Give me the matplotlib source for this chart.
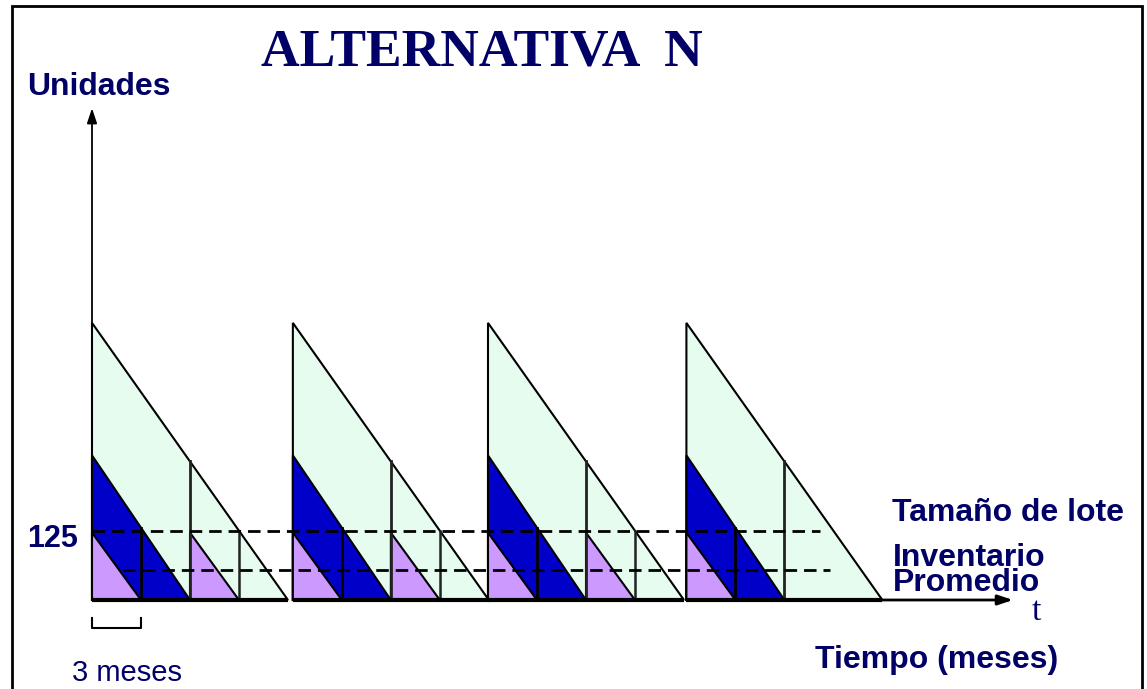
import matplotlib.pyplot as plt
from matplotlib.patches import Polygon, Rectangle

# figure size in pixels
W, H = 1147, 689

# lot heights (units) and how long each lot lasts (months)
lot_sizes = [502, 262, 122]
lot_months = [12, 6, 3]
cycle_starts = [0, 12.3, 24.25, 36.4]
has_second_small = [True, True, True, False]
dashed_levels = [125, 55]
dashed_ranges = [(0, 44.6), (1.9, 45.2)]

GREEN = '#e6fcee'
BLUE = '#0000c8'
PURPLE = '#cc99ff'
NAVY = '#000066'

# pixel mapping of the drawing: origin at (92, 600)
PX_PER_MONTH = 16.33
PX_PER_UNIT = 0.552


def px(x, y):
    return x / W, 1 - y / H


def triangle(ax, t0, height, width, color, lw=1.5, zorder=1):
    poly = Polygon([(t0, 0), (t0, height), (t0 + width, 0)], closed=True,
                   facecolor=color, edgecolor='black', lw=lw, zorder=zorder)
    ax.add_patch(poly)


def level(t0, t, height, width):
    # height left of a lot at time t
    return height * (1 - (t - t0) / width)


fig = plt.figure(figsize=(W / 100, H / 100), dpi=100)
ax = fig.add_axes([0, 0, 1, 1])
ax.set_xlim(-92 / PX_PER_MONTH, (W - 92) / PX_PER_MONTH)
ax.set_ylim((600 - H) / PX_PER_UNIT, 600 / PX_PER_UNIT)
ax.axis('off')

big, mid, small = lot_sizes
tb, tm, ts = lot_months
for t0, second in zip(cycle_starts, has_second_small):
    triangle(ax, t0, big, tb, GREEN, zorder=1)
    triangle(ax, t0, mid, tm, BLUE, zorder=2)
    triangle(ax, t0, small, ts, PURPLE, zorder=3)
    # vertical divisions
    ax.plot([t0 + ts, t0 + ts], [0, level(t0, t0 + ts, mid, tm)], color='black', lw=2, zorder=4)
    ax.plot([t0 + tm, t0 + tm], [0, level(t0, t0 + tm, big, tb)], color='#222222', lw=2, zorder=4)
    if second:
        triangle(ax, t0 + tm, small, ts, PURPLE, zorder=3)
        t9 = t0 + tm + ts
        ax.plot([t9, t9], [0, level(t0, t9, big, tb)], color='#222222', lw=1.8, zorder=4)
    # thick base
    ax.plot([t0, t0 + tb], [0, 0], color='black', lw=3, zorder=5, solid_capstyle='butt')

# average inventory lines
for lev, (a, b) in zip(dashed_levels, dashed_ranges):
    ax.plot([a, b], [lev, lev], color='black', lw=2, ls=(0, (4.5, 2.5)), zorder=6)

# axes arrows
ax.annotate('', xy=(0, 891), xytext=(0, 0),
            arrowprops=dict(arrowstyle='-|>,head_length=0.9,head_width=0.3', color='black', lw=1.3,
                            shrinkA=0, shrinkB=0), zorder=7)
x_end = cycle_starts[-1] + tb
ax.annotate('', xy=(56.4, 0), xytext=(x_end, 0),
            arrowprops=dict(arrowstyle='-|>,head_length=0.9,head_width=0.3', color='black', lw=2,
                            shrinkA=0, shrinkB=0), zorder=7)

# 3-month bracket
ax.plot([0, 0, 3, 3], [-33, -51, -51, -33], color='black', lw=1.5)

# frame
fig.patches.append(Rectangle((12 / W, -0.01), 1130 / W, 1 - 6 / H + 0.01, transform=fig.transFigure,
                             fill=False, edgecolor='black', lw=2))

sans = 'Liberation Sans'
fig.text(*px(482, 52), 'ALTERNATIVA  N', family='Liberation Serif', weight='bold',
         fontsize=38.5, color=NAVY, ha='center', va='center')
fig.text(*px(27, 87), 'Unidades', family=sans, weight='bold', fontsize=23, color=NAVY, va='center')
fig.text(*px(27, 539), '125', family=sans, weight='bold', fontsize=22, color=NAVY, va='center')
fig.text(*px(892, 513), 'Tamaño de lote', family=sans, weight='bold', fontsize=23, color=NAVY, va='center')
fig.text(*px(893, 566), 'Inventario', family=sans, weight='bold', fontsize=23, color=NAVY, va='baseline')
fig.text(*px(893, 591), 'Promedio', family=sans, weight='bold', fontsize=23, color=NAVY, va='baseline')
fig.text(*px(1036, 612), 't', family='Liberation Serif', fontsize=24, color=NAVY, ha='center', va='center')
fig.text(*px(815, 660), 'Tiempo (meses)', family=sans, weight='bold', fontsize=23, color=NAVY, va='center')
fig.text(*px(72, 673), '3 meses', family=sans, fontsize=21, color=NAVY, va='center')

fig.savefig('out.png', dpi=100)
